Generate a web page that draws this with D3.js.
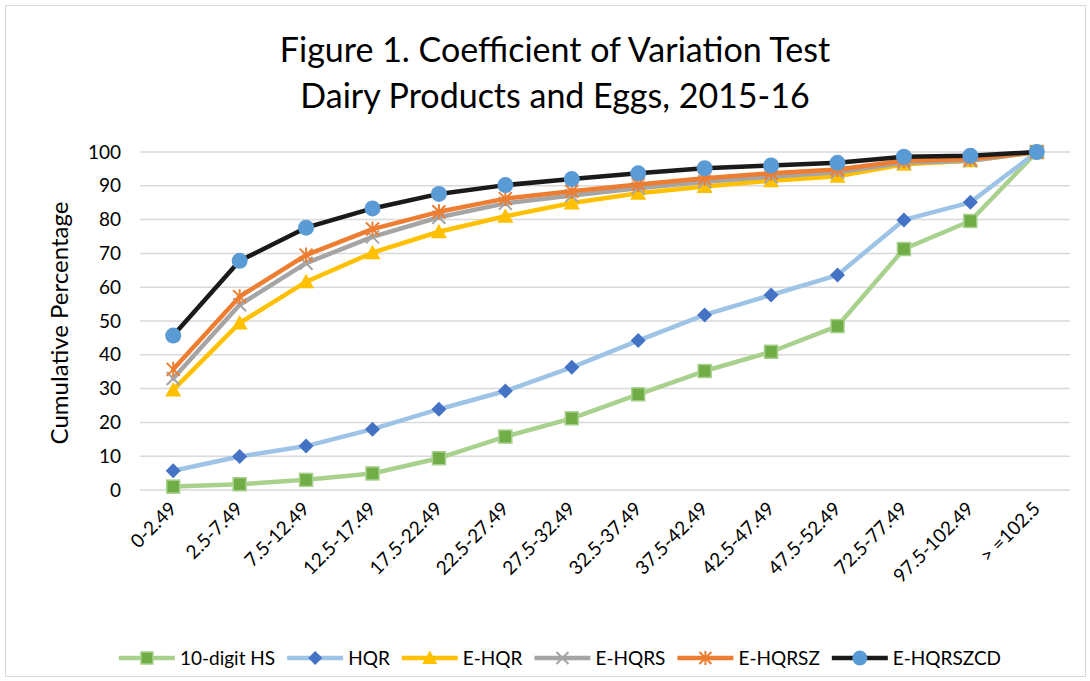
<!DOCTYPE html>
<html>
<head>
<meta charset="utf-8">
<script src="https://cdn.jsdelivr.net/npm/d3@7"></script>
<style>
  body { margin: 0; background: #fff; }
  svg { display: block; font-family: Lato, "Open Sans", sans-serif; }
</style>
</head>
<body>
<svg id="chart" width="1090" height="681"></svg>
<script>
const categories = ["0-2.49","2.5-7.49","7.5-12.49","12.5-17.49","17.5-22.49","22.5-27.49","27.5-32.49","32.5-37.49","37.5-42.49","42.5-47.49","47.5-52.49","72.5-77.49","97.5-102.49","> =102.5"];
const yTicks = [0,10,20,30,40,50,60,70,80,90,100];

const hs10     = [1.0, 1.7, 3.0, 4.9, 9.4, 15.8, 21.2, 28.3, 35.2, 40.9, 48.5, 71.3, 79.6, 100];
const hqr      = [5.7, 9.9, 13.0, 18.0, 23.9, 29.3, 36.3, 44.2, 51.8, 57.7, 63.6, 79.9, 85.1, 100];
const eHqr     = [29.6, 49.4, 61.6, 70.2, 76.4, 81.0, 84.9, 87.8, 89.8, 91.5, 92.8, 96.4, 97.4, 100];
const eHqrs    = [33.0, 54.8, 67.1, 74.9, 80.7, 84.8, 87.1, 89.3, 91.2, 92.7, 94.0, 96.8, 97.4, 100];
const eHqrsz   = [35.7, 57.2, 69.5, 77.2, 82.3, 86.2, 88.4, 90.4, 92.2, 93.7, 94.8, 97.4, 97.9, 100];
const eHqrszcd = [45.7, 67.8, 77.6, 83.3, 87.6, 90.2, 92.0, 93.7, 95.2, 96.0, 96.8, 98.6, 98.9, 100];

const seriesNames = ["10-digit HS","HQR","E-HQR","E-HQRS","E-HQRSZ","E-HQRSZCD"];
const series = [
  {name: seriesNames[0], values: hs10,     line: "#A9D18E", fill: "#70AD47", stroke: "#A9D18E", marker: "square"},
  {name: seriesNames[1], values: hqr,      line: "#9DC3E6", fill: "#4472C4", stroke: "#4472C4", marker: "diamond"},
  {name: seriesNames[2], values: eHqr,     line: "#FFC000", fill: "#FFC000", stroke: "#FFC000", marker: "triangle"},
  {name: seriesNames[3], values: eHqrs,    line: "#A5A5A5", fill: "none",    stroke: "#A5A5A5", marker: "x"},
  {name: seriesNames[4], values: eHqrsz,   line: "#ED7D31", fill: "none",    stroke: "#ED7D31", marker: "star"},
  {name: seriesNames[5], values: eHqrszcd, line: "#1A1A1A", fill: "#5B9BD5", stroke: "#5B9BD5", marker: "circle"}
];

const svg = d3.select("#chart");
const W = 1090, H = 681;

// outer border
svg.append("rect").attr("x", 5.5).attr("y", 5.5).attr("width", W - 10).attr("height", H - 10)
  .attr("fill", "#fff").attr("stroke", "#D9D9D9").attr("stroke-width", 1);

const plot = {left: 140, right: 1070, top: 152, bottom: 490};
const x = d3.scalePoint().domain(categories).range([plot.left, plot.right]).padding(0.5);
const y = d3.scaleLinear().domain([0, 100]).range([plot.bottom, plot.top]);

// title
const title = svg.append("text").attr("text-anchor", "middle").attr("fill", "#000")
  .style("font-size", "34px");
title.append("tspan").attr("x", 555).attr("y", 62).text("Figure 1. Coefficient of Variation Test");
title.append("tspan").attr("x", 555).attr("y", 108).text("Dairy Products and Eggs, 2015-16");

// gridlines
svg.append("g").selectAll("line").data(yTicks).join("line")
  .attr("x1", plot.left).attr("x2", plot.right)
  .attr("y1", d => y(d)).attr("y2", d => y(d))
  .attr("stroke", "#D9D9D9").attr("stroke-width", 1.5);

// y axis
const yAxis = svg.append("g").attr("transform", `translate(${plot.left},0)`)
  .call(d3.axisLeft(y).tickValues(yTicks).tickSize(0).tickPadding(19));
yAxis.select(".domain").remove();
yAxis.selectAll("text").style("font-size", "19px").style("font-family", "Lato, sans-serif").attr("fill", "#000");

// x axis labels
const xAxis = svg.append("g").attr("transform", `translate(0,${plot.bottom})`)
  .call(d3.axisBottom(x).tickSize(0).tickPadding(0));
xAxis.select(".domain").remove();
xAxis.selectAll("text")
  .style("font-size", "19px").style("font-family", "Lato, sans-serif").attr("fill", "#000")
  .attr("text-anchor", "end")
  .attr("dy", null)
  .attr("transform", "translate(4,20) rotate(-45)");

// y axis title
svg.append("text").attr("transform", "translate(68,323) rotate(-90)")
  .attr("text-anchor", "middle").style("font-size", "24px").text("Cumulative Percentage");

// markers
function drawMarker(g, type, s, size) {
  const h = size / 2;
  if (type === "square") {
    g.append("rect").attr("x", -h).attr("y", -h).attr("width", size).attr("height", size)
      .attr("fill", s.fill).attr("stroke", s.stroke).attr("stroke-width", 1.5);
  } else if (type === "diamond") {
    g.append("path").attr("d", `M0,${-h-1}L${h+1},0L0,${h+1}L${-h-1},0Z`).attr("fill", s.fill);
  } else if (type === "triangle") {
    g.append("path").attr("d", `M0,${-h-1.5}L${h+1.5},${h}L${-h-1.5},${h}Z`).attr("fill", s.fill);
  } else if (type === "x") {
    g.append("path").attr("d", `M${-h},${-h}L${h},${h}M${h},${-h}L${-h},${h}`)
      .attr("stroke", s.stroke).attr("stroke-width", 2).attr("fill", "none");
  } else if (type === "star") {
    g.append("path").attr("d", `M${-h},${-h}L${h},${h}M${h},${-h}L${-h},${h}M0,${-h-1}L0,${h+1}`)
      .attr("stroke", s.stroke).attr("stroke-width", 2).attr("fill", "none");
  } else if (type === "circle") {
    g.append("circle").attr("r", h + 1.5).attr("fill", s.fill);
  }
}

const line = d3.line().x((d, i) => x(categories[i])).y(d => y(d));
series.forEach(s => {
  const g = svg.append("g");
  g.append("path").attr("d", line(s.values)).attr("fill", "none")
    .attr("stroke", s.line).attr("stroke-width", 4.5).attr("stroke-linejoin", "round").attr("stroke-linecap", "round");
  s.values.forEach((v, i) => {
    const mg = g.append("g").attr("transform", `translate(${x(categories[i])},${y(v)})`);
    drawMarker(mg, s.marker, s, 13);
  });
});

// legend (laid out sequentially, centred)
const legendY = 658, lineLen = 56, textGap = 5, itemGap = 12;
const legend = svg.append("g");
const items = series.map(s => {
  const g = legend.append("g");
  g.append("line").attr("x1", 0).attr("x2", lineLen).attr("y1", 0).attr("y2", 0)
    .attr("stroke", s.line).attr("stroke-width", 4.5);
  const mg = g.append("g").attr("transform", `translate(${lineLen / 2},0)`);
  drawMarker(mg, s.marker, s, 12);
  const t = g.append("text").attr("x", lineLen + textGap).attr("y", 7).style("font-size", "19px").text(s.name);
  return {g, w: lineLen + textGap + t.node().getComputedTextLength()};
});
const total = d3.sum(items, d => d.w) + itemGap * (items.length - 1);
let cx = 560 - total / 2;
items.forEach(it => {
  it.g.attr("transform", `translate(${cx},${legendY})`);
  cx += it.w + itemGap;
});
</script>
</body>
</html>
